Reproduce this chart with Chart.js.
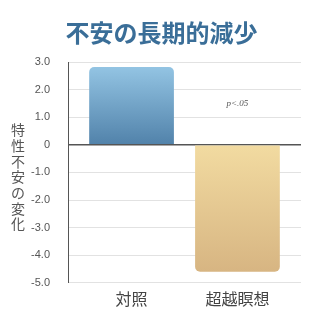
<!DOCTYPE html>
<html>
<head>
<meta charset="utf-8">
<script src="https://cdn.jsdelivr.net/npm/chart.js@4"></script>
<style>
  html, body { margin: 0; padding: 0; background: #fff; }
  #wrap { position: relative; width: 320px; height: 320px; }
  #title {
    position: absolute; left: 3px; right: 0; top: 16px;
    text-align: center;
    font-family: "Noto Sans CJK JP", "Noto Sans", sans-serif;
    font-size: 24px; font-weight: bold; line-height: 32px;
    color: #3a6e98;
  }
</style>
</head>
<body>
<div id="wrap">
  <canvas id="myChart" width="320" height="320"></canvas>
  <div id="title"></div>
</div>
<script>
const chartTitle = '不安の長期的減少';
const yTitle = '特性不安の変化';
const groups = ['対照', '超越瞑想'];
const xPos = [0, 1];
const change = [2.82, -4.6];
const pNote = 'p<.05';
const pNoteAt = [1, 1.5];

document.getElementById('title').textContent = chartTitle;

const jp = '"Noto Sans CJK JP", "Noto Sans", sans-serif';

function barGradient(ctx) {
  const chart = ctx.chart;
  const area = chart.chartArea;
  if (!area) return '#6a9cc4';
  const y = chart.scales.y;
  const c = chart.ctx;
  if (ctx.dataIndex === 0) {
    const g = c.createLinearGradient(0, y.getPixelForValue(change[0]), 0, y.getPixelForValue(0));
    g.addColorStop(0, '#93c4e3');
    g.addColorStop(1, '#5182aa');
    return g;
  }
  const g = c.createLinearGradient(0, y.getPixelForValue(0), 0, y.getPixelForValue(change[1]));
  g.addColorStop(0, '#f2dba1');
  g.addColorStop(1, '#d7b582');
  return g;
}

const extras = {
  id: 'extras',
  afterDraw(chart) {
    const c = chart.ctx;
    c.save();
    // vertical y axis title, one character per line
    c.fillStyle = '#555';
    c.font = '14px ' + jp;
    c.textAlign = 'center';
    c.textBaseline = 'middle';
    const chars = Array.from(yTitle);
    const step = 15.7;
    const mid = 177;
    chars.forEach((ch, i) => {
      c.fillText(ch, 18, mid + (i - (chars.length - 1) / 2) * step);
    });
    // significance note
    c.font = 'italic 9px "Liberation Serif", "DejaVu Serif", serif';
    c.fillText(pNote, chart.scales.x.getPixelForValue(pNoteAt[0]), chart.scales.y.getPixelForValue(pNoteAt[1]));
    c.restore();
  }
};

new Chart(document.getElementById('myChart'), {
  type: 'bar',
  data: {
    datasets: [{
      data: xPos.map((x, i) => ({ x: x, y: change[i] })),
      backgroundColor: barGradient,
      borderWidth: 0,
      borderRadius: 5,
      borderSkipped: 'start',
      barPercentage: 0.8,
      categoryPercentage: 1
    }]
  },
  options: {
    responsive: false,
    animation: false,
    layout: { padding: { left: 0, right: 19, top: 62, bottom: 4 } },
    plugins: {
      legend: { display: false },
      tooltip: { enabled: false },
      title: { display: false }
    },
    scales: {
      x: {
        type: 'linear',
        offset: false,
        min: -0.6,
        max: 1.6,
        grid: { display: false, drawTicks: false },
        border: { display: false },
        afterBuildTicks: s => { s.ticks = xPos.map(v => ({ value: v })); },
        ticks: {
          color: '#444',
          font: { family: jp, size: 16 },
          padding: 7,
          callback: v => groups[v] !== undefined ? groups[v] : ''
        }
      },
      y: {
        min: -5,
        max: 3,
        afterFit: s => { s.width = 68; },
        ticks: {
          stepSize: 1,
          color: '#555',
          font: { family: '"Liberation Sans", sans-serif', size: 11 },
          padding: 18,
          callback: v => v === 0 ? '0' : v.toFixed(1)
        },
        grid: {
          drawTicks: false,
          color: ctx => ctx.tick && ctx.tick.value === 0 ? '#555' : '#e2e2e2',
          lineWidth: ctx => ctx.tick && ctx.tick.value === 0 ? 1.5 : 1
        },
        border: { display: true, color: '#555', width: 1 }
      }
    }
  },
  plugins: [extras]
});
</script>
</body>
</html>
